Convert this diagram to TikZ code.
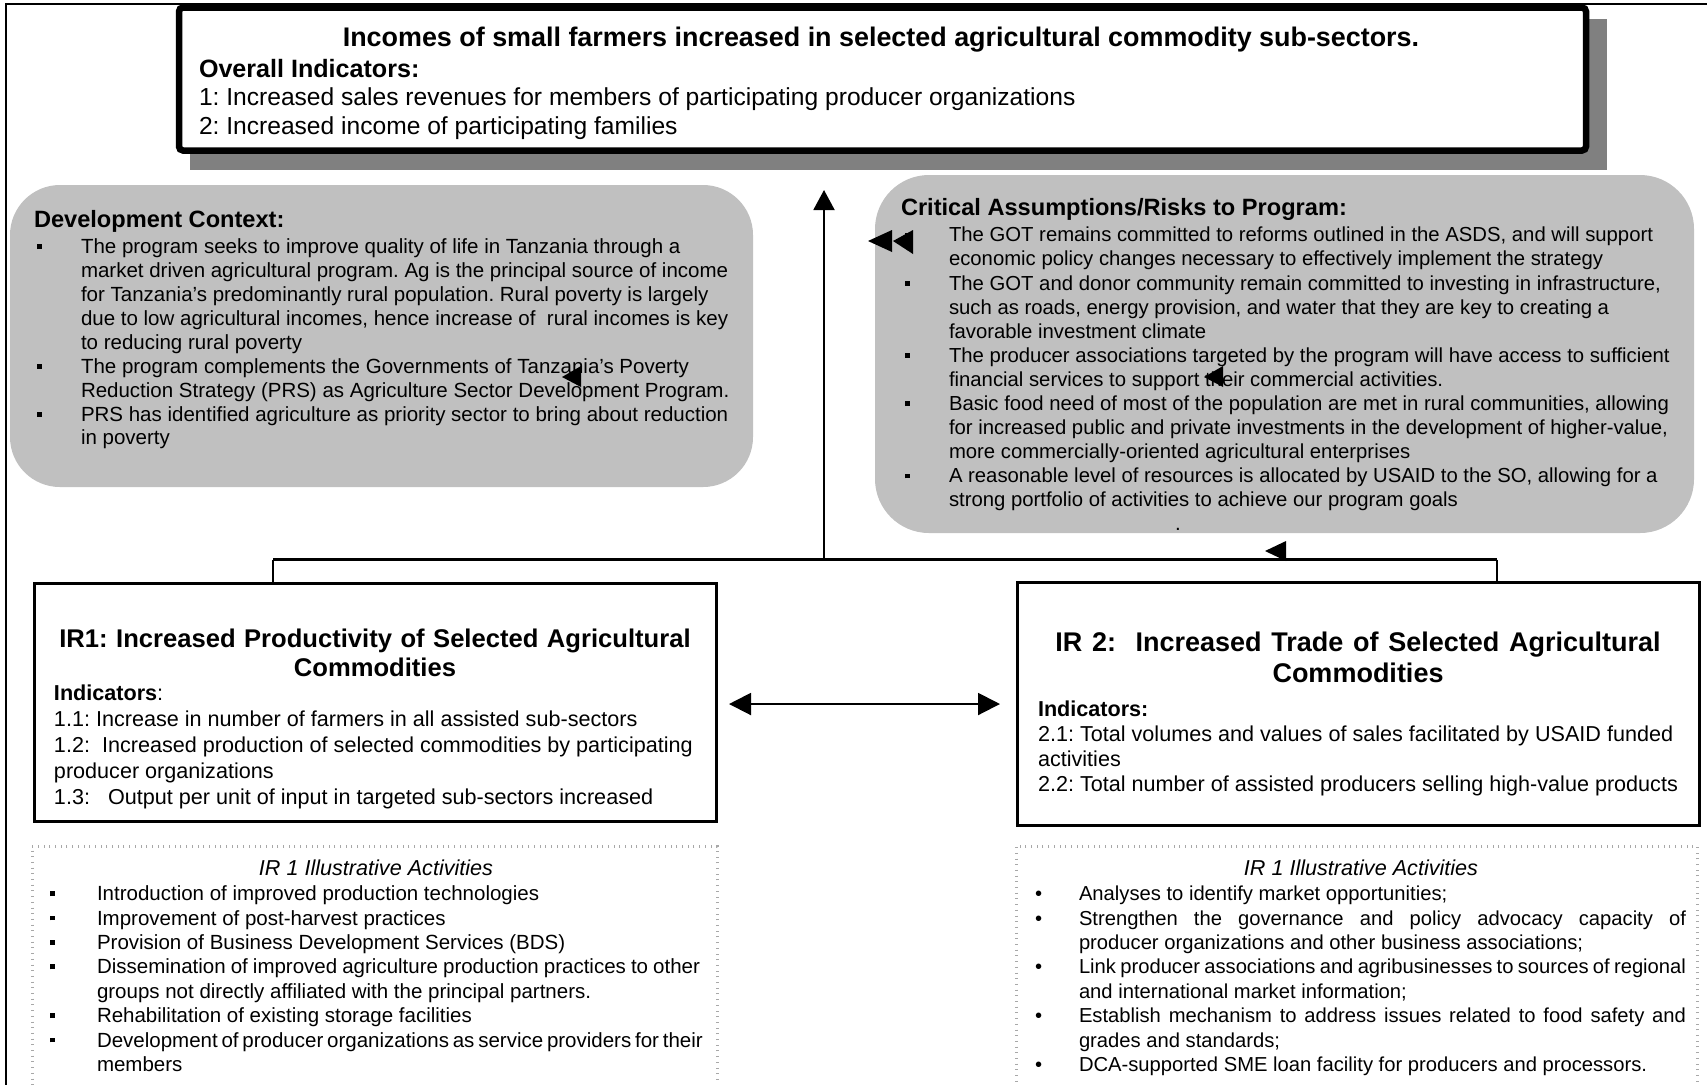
\documentclass[tikz,border=0pt]{standalone}
\usepackage{fontspec}
\setmainfont{Liberation Sans}
\usetikzlibrary{arrows.meta,calc}
\setlength{\parindent}{0pt}
\frenchspacing
\definecolor{shadowgray}{HTML}{808080}
\definecolor{panelgray}{HTML}{C0C0C0}
\definecolor{dotgray}{HTML}{A8A8A8}
\newlength{\hangw}
\newlength{\jw}
% plain interword spacing inside aligned nodes
\newcommand{\normsp}{\spaceskip=0pt\xspaceskip=0pt\relax}
% small square list marker
\newcommand{\sqbul}{\raisebox{0.22em}{\rule{2.4pt}{2.4pt}}}
% list item with hanging indent
\newcommand{\bitem}[2]{\hangindent=\hangw\hangafter=1\noindent\strut\makebox[\hangw][l]{#1}#2\par}
% fully justified line inside an item
\newcommand{\jl}[1]{\makebox[\jw][s]{\normsp#1}\newline}

\begin{document}
\begin{tikzpicture}[x=0.5pt,y=-0.5pt,
  every node/.style={inner sep=0pt, outer sep=0pt},
  goalbox/.style={draw, line width=3.25pt, rounded corners=2pt, fill=white, anchor=north west},
  shadowbox/.style={fill=shadowgray, anchor=north west},
  panel/.style={fill=panelgray, anchor=north west},
  irbox/.style={draw, line width=1.5pt, fill=white, anchor=north west},
  actbox/.style={draw=dotgray, line width=1.5pt, dash pattern=on 0.5pt off 2.35pt, anchor=north west},
  body/.style={anchor=north west, align=left, font=\fontsize{10.25}{11.95}\selectfont},
  head/.style={anchor=base west, font=\bfseries\fontsize{11.8}{14}\selectfont},
  busline/.style={line width=1.5pt},
  dropline/.style={line width=1pt},
  upline/.style={line width=1pt, -{Triangle[length=10pt,width=10.5pt]}},
  linkarrow/.style={line width=1pt, {Triangle[length=11pt,width=11pt]}-{Triangle[length=11pt,width=11pt]}},
]
\useasboundingbox (0,0) rectangle (1707,1084);
\fill[white] (0,0) rectangle (1707,1084);

% page frame
\draw[line width=1pt] (6,1090) -- (6,4) -- (1707,4);

% goal box with its shadow
\node[shadowbox, minimum width=708.5pt, minimum height=75.5pt] (goalshadow) at (190,19) {};
\node[goalbox, minimum width=703.5pt, minimum height=71.5pt] (goal) at (179,7.5) {};
\node[anchor=base, font=\bfseries\fontsize{13.45}{15}\selectfont] (goaltitle) at (881,46.7)
  {Incomes of small farmers increased in selected agricultural commodity sub-sectors.};
\node[anchor=base west, font=\bfseries\fontsize{12.55}{14}\selectfont] (goalhead) at (199,77.1) {Overall Indicators:};
\node[anchor=base west, font=\fontsize{12.3}{14}\selectfont] (goalone) at (199,105.1)
  {1: Increased sales revenues for members of participating producer organizations};
\node[anchor=base west, font=\fontsize{12.3}{14}\selectfont] (goaltwo) at (199,134.1)
  {2: Increased income of participating families};

% context and assumption panels
\node[panel, rounded corners=25pt, minimum width=371.5pt, minimum height=151pt] (dev) at (10,185) {};
\node[panel, rounded corners=27pt, minimum width=409.5pt, minimum height=179pt] (crit) at (875,175) {};

\node[head] (devhead) at (34,227.8) {Development Context:};
\node[body, text width=360pt] (devlist) at (37,237) {\normsp\setlength{\hangw}{22pt}%
\bitem{\sqbul}{The program seeks to improve quality of life in Tanzania through a\newline
market driven agricultural program. Ag is the principal source of income\newline
for Tanzania’s predominantly rural population. Rural poverty is largely\newline
due to low agricultural incomes, hence increase of\ \ rural incomes is key\newline
to reducing rural poverty}
\bitem{\sqbul}{The program complements the Governments of Tanzania’s Poverty\newline
Reduction Strategy (PRS) as Agriculture Sector Development Program.}
\bitem{\sqbul}{PRS has identified agriculture as priority sector to bring about reduction\newline
in poverty}};

\node[head] (crithead) at (901,215.8) {Critical Assumptions/Risks to Program:};
\node[body, text width=398pt, font=\fontsize{10.15}{12.05}\selectfont] (critlist) at (905,225) {\normsp\setlength{\hangw}{22pt}%
\bitem{\sqbul}{The GOT remains committed to reforms outlined in the ASDS, and will support\newline
economic policy changes necessary to effectively implement the strategy}
\bitem{\sqbul}{The GOT and donor community remain committed to investing in infrastructure,\newline
such as roads, energy provision, and water that they are key to creating a\newline
favorable investment climate}
\bitem{\sqbul}{The producer associations targeted by the program will have access to sufficient\newline
financial services to support their commercial activities.}
\bitem{\sqbul}{Basic food need of most of the population are met in rural communities, allowing\newline
for increased public and private investments in the development of higher-value,\newline
more commercially-oriented agricultural enterprises}
\bitem{\sqbul}{A reasonable level of resources is allocated by USAID to the SO, allowing for a\newline
strong portfolio of activities to achieve our program goals}};
\node[anchor=base, font=\fontsize{10.25}{12}\selectfont] (critdot) at (1178,530) {.};

% intermediate results
\node[irbox, minimum width=341pt, minimum height=118.75pt] (ir1) at (34,583.5) {};
\node[irbox, minimum width=341pt, minimum height=121.5pt] (ir2) at (1017,582.5) {};

\node[anchor=north, align=center, text width=335pt, font=\bfseries\fontsize{12.8}{14.5}\selectfont] (irtitleA) at (375,627)
  {\normsp\strut IR1: Increased Productivity of Selected Agricultural\\Commodities};
\node[anchor=north west, align=left, text width=330pt, font=\fontsize{10.8}{13}\selectfont] (irlistA) at (54,682)
  {\normsp\strut\textbf{Indicators}:\\
   1.1: Increase in number of farmers in all assisted sub-sectors\\
   1.2:\ \ Increased production of selected commodities by participating\\
   producer organizations\\
   1.3:\ \ \ Output per unit of input in targeted sub-sectors increased};

\node[anchor=north, align=center, text width=335pt, font=\bfseries\fontsize{13.5}{15.2}\selectfont] (irtitleB) at (1358,630.6)
  {\normsp\strut IR 2:\ \ Increased Trade of Selected Agricultural\\Commodities};
\node[anchor=north west, align=left, text width=330pt, font=\fontsize{10.8}{12.6}\selectfont] (irlistB) at (1038,698.5)
  {\normsp\strut\textbf{Indicators:}\\
   2.1: Total volumes and values of sales facilitated by USAID funded\\
   activities\\
   2.2: Total number of assisted producers selling high-value products};

% illustrative activities
\node[actbox, minimum width=342.5pt, minimum height=125pt] (act1) at (32,846) {};
\node[actbox, minimum width=340.5pt, minimum height=125pt] (act2) at (1016,846) {};

\node[anchor=base, font=\itshape\fontsize{10.8}{12.2}\selectfont] (acthdA) at (376,875) {IR 1 Illustrative Activities};
\node[body, text width=325pt, font=\fontsize{10.25}{12.2}\selectfont] (actlistA) at (50,883.5) {\normsp\setlength{\hangw}{23.5pt}\setlength{\jw}{301.5pt}%
\bitem{\sqbul}{Introduction of improved production technologies}
\bitem{\sqbul}{Improvement of post-harvest practices}
\bitem{\sqbul}{Provision of Business Development Services (BDS)}
\bitem{\sqbul}{\jl{Dissemination of improved agriculture production practices to other}groups not directly affiliated with the principal partners.}
\bitem{\sqbul}{Rehabilitation of existing storage facilities}
\bitem{\sqbul}{\jl{Development of producer organizations as service providers for their}members}};

\node[anchor=base, font=\itshape\fontsize{10.8}{12.2}\selectfont] (acthdB) at (1361,875) {IR 1 Illustrative Activities};
\node[body, text width=325.5pt, font=\fontsize{10.1}{12.2}\selectfont] (actlistB) at (1035,883.5) {\normsp\setlength{\hangw}{22pt}\setlength{\jw}{303.5pt}%
\bitem{\textbullet}{Analyses to identify market opportunities;}
\bitem{\textbullet}{\jl{Strengthen the governance and policy advocacy capacity of}producer organizations and other business associations;}
\bitem{\textbullet}{\jl{Link producer associations and agribusinesses to sources of regional}and international market information;}
\bitem{\textbullet}{\jl{Establish mechanism to address issues related to food safety and}grades and standards;}
\bitem{\textbullet}{DCA-supported SME loan facility for producers and processors.}};

% connectors
\coordinate (busL) at (273,559.5);
\coordinate (busR) at (1497,559.5);
\coordinate (busM) at (824,559.5);
\coordinate (goalin) at (824,190);
\coordinate (link) at (864,704);
\draw[busline] (busL) -- (busR);
\draw[dropline] (busL) -- (busL |- ir1.north);
\draw[dropline] (busR) -- (busR |- ir2.north);
\draw[upline] (busM) -- (goalin);
\draw[linkarrow] ($(link -| ir1.east)+(13,0)$) -- ($(link -| ir2.west)+(-17,0)$);

% loose arrowheads
\fill (868,241) -- (892,230) -- (892,252) -- cycle;
\fill (893,241) -- (913,230) -- (913,254) -- cycle;
\fill (562,377) -- (581,366) -- (581,387) -- cycle;
\fill (1204,377) -- (1223,366) -- (1223,387) -- cycle;
\fill (1265,551) -- (1286,541) -- (1286,561) -- cycle;
\end{tikzpicture}
\end{document}
